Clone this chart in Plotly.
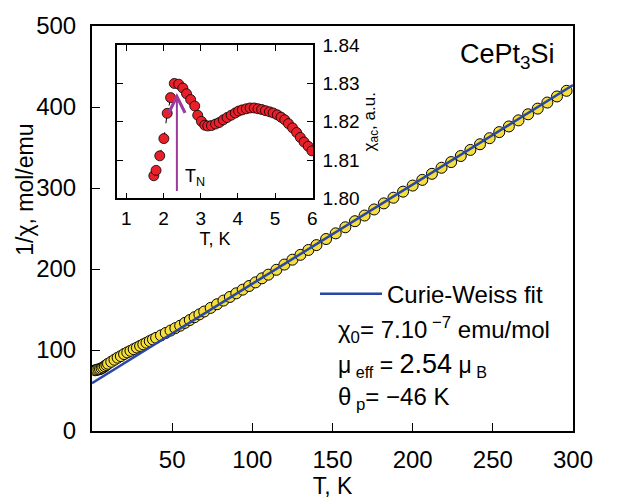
import plotly.graph_objects as go

# ---------------- data ----------------
# main panel: inverse susceptibility
T_main = [2, 3, 4, 5, 6, 7, 8, 9, 10, 12, 14, 16, 18, 20, 22, 24, 26, 28, 30, 32,
          34, 36, 38, 40, 43, 46, 49, 52, 55, 58, 61, 64, 67, 70, 74, 78, 82, 86,
          90, 94, 98, 102, 106, 110, 115, 120, 125, 130, 135, 140, 146, 152, 158,
          164, 170, 176, 182, 188, 194, 200, 206, 212, 218, 224, 230, 236, 242,
          248, 254, 260, 266, 272, 278, 284, 290, 296]
inv_chi = [75, 75.5, 76, 76.5, 77.5, 78.5, 80, 81.5, 83, 85.5, 88, 90.5, 92.5, 95,
           97, 99, 101, 103, 105, 107, 109, 111, 113, 115, 118, 121, 124, 127, 130,
           133.5, 137, 140.5, 144, 147.5, 152, 156.5, 161, 165.5, 170, 174.5, 179,
           183.5, 188.5, 193, 199, 205.5, 211.5, 217.5, 223.5, 229.5, 237, 244,
           251.5, 259, 266, 273.5, 281, 288, 295.5, 303, 310, 317.5, 325, 332,
           339.5, 347, 354, 361.5, 369, 376, 383.5, 391, 398, 405.5, 413, 420]

# Curie-Weiss fit line
T_fit = [0, 300]
inv_chi_fit = [59, 427]

# inset: ac susceptibility
T_ac = [1.74, 1.80, 1.90, 2.01, 2.10, 2.19, 2.29, 2.41, 2.52, 2.62, 2.73, 2.84,
        2.92, 3.02, 3.11, 3.19, 3.29, 3.40, 3.50, 3.61, 3.71, 3.82, 3.93, 4.02,
        4.12, 4.23, 4.33, 4.44, 4.54, 4.64, 4.74, 4.85, 4.95, 5.06, 5.16, 5.26,
        5.36, 5.47, 5.58, 5.68, 5.78, 5.89, 5.99]
chi_ac = [1.8059, 1.8073, 1.8111, 1.8156, 1.8222, 1.8263, 1.8300, 1.8298, 1.8288,
          1.8273, 1.8258, 1.8241, 1.8217, 1.8201, 1.8191, 1.8189, 1.8190, 1.8194,
          1.8198, 1.8205, 1.8211, 1.8217, 1.8223, 1.8228, 1.8231, 1.8234, 1.8236,
          1.8236, 1.8234, 1.8232, 1.8229, 1.8226, 1.8223, 1.8218, 1.8212, 1.8205,
          1.8195, 1.8184, 1.8172, 1.8159, 1.8147, 1.8136, 1.8124]

T_N = 2.36
arrow_from = 1.8015
arrow_to = 1.8275

main_xticks = [50, 100, 150, 200, 250, 300]
main_yticks = [0, 100, 200, 300, 400, 500]
inset_xticks = [1, 2, 3, 4, 5, 6]
inset_yticks = [1.80, 1.81, 1.82, 1.83, 1.84]

FONT = "Liberation Sans, Arial, Helvetica, sans-serif"

fig = go.Figure()

fig.add_trace(go.Scatter(
    x=T_main, y=inv_chi, mode="markers", showlegend=False,
    marker=dict(size=11, color="#f6df3a", line=dict(color="black", width=1)),
    xaxis="x", yaxis="y"))

fig.add_trace(go.Scatter(
    x=T_fit, y=inv_chi_fit, mode="lines", name="Curie-Weiss fit",
    line=dict(color="#2a47a6", width=2.5), xaxis="x", yaxis="y"))

fig.add_trace(go.Scatter(
    x=T_ac, y=chi_ac, mode="lines+markers", showlegend=False,
    line=dict(color="black", width=1, dash="dash"),
    marker=dict(size=10, color="#e8202a", line=dict(color="black", width=0.8)),
    xaxis="x2", yaxis="y2"))

x0, x1 = 92, 573
y0, y1 = 17, 440
W, H = 618, 501
pw, ph = x1 - x0, y1 - y0


def px(x):
    return (x - x0) / pw


def py(y):
    return (y1 - y) / ph


axis_common = dict(showgrid=False, zeroline=False, linecolor="black",
                   ticks="inside", tickcolor="black")

fig.update_layout(
    width=W, height=H,
    margin=dict(l=x0, r=W - x1, t=y0, b=H - y1),
    paper_bgcolor="white", plot_bgcolor="white",
    font=dict(family=FONT, size=24, color="black"),
    xaxis=dict(range=[0, 300], tickvals=main_xticks, linewidth=2, ticklen=8,
               tickwidth=1, mirror=True, ticklabelstandoff=6,
               tickfont=dict(size=24),
               title=dict(text="T, K", font=dict(size=23), standoff=0),
               **axis_common),
    yaxis=dict(range=[0, 500], tickvals=main_yticks, linewidth=2, ticklen=8,
               tickwidth=1, mirror=True, ticklabelstandoff=9,
               tickfont=dict(size=24), **axis_common),
    xaxis2=dict(domain=[px(117), px(313)], anchor="y2", range=[0.75, 6.02],
                tickvals=inset_xticks, linewidth=1.5, ticklen=6, mirror="ticks",
                tickfont=dict(size=19), ticklabelstandoff=2,
                title=dict(text="T, K", font=dict(size=18), standoff=0),
                **axis_common),
    yaxis2=dict(domain=[py(197), py(37)], anchor="x2", side="right",
                range=[1.80, 1.84], tickvals=inset_yticks, tickformat=".2f",
                linewidth=1.5, ticklen=6, mirror="ticks",
                tickfont=dict(size=19), ticklabelstandoff=4,
                title=dict(text="χ<sub>ac</sub>, a.u.", font=dict(size=17), standoff=4),
                **axis_common),
    legend=dict(x=px(315), y=py(297), xanchor="left", yanchor="middle",
                bgcolor="rgba(0,0,0,0)", borderwidth=0,
                font=dict(size=24), itemwidth=62),
)

ann = []
ann.append(dict(xref="paper", yref="paper", x=px(25), y=py(188),
                xanchor="center", yanchor="middle",
                text="1/χ, mol/emu", textangle=-90, showarrow=False,
                font=dict(size=23)))
ann.append(dict(xref="paper", yref="paper", x=px(557), y=py(48),
                xanchor="right", yanchor="middle",
                text="CePt<sub>3</sub>Si", showarrow=False, font=dict(size=27)))
ann.append(dict(xref="paper", yref="paper", x=px(336), y=py(334),
                xanchor="left", yanchor="middle",
                text="χ<sub>0</sub>= 7.10<sup> −7</sup> emu/mol", showarrow=False,
                font=dict(size=24)))
ann.append(dict(xref="paper", yref="paper", x=px(336), y=py(371),
                xanchor="left", yanchor="middle",
                text="μ<sub> eff</sub> = <span style='font-size:27px'>2.54</span> μ<sub> B</sub>",
                showarrow=False, font=dict(size=23)))
ann.append(dict(xref="paper", yref="paper", x=px(336), y=py(406),
                xanchor="left", yanchor="middle",
                text="θ<sub> p</sub>= −46 K", showarrow=False, font=dict(size=24)))
ann.append(dict(xref="x2", yref="y2", x=T_N, y=arrow_to,
                ax=T_N, ay=arrow_from, axref="x2", ayref="y2",
                text="", showarrow=True, arrowhead=5, arrowsize=1.6,
                arrowwidth=2, arrowcolor="#9a3a9a"))
ann.append(dict(xref="x2", yref="y2", x=2.52, y=1.8055, xanchor="left",
                yanchor="middle", text="T<sub>N</sub>", showarrow=False,
                font=dict(size=18)))
fig.update_layout(annotations=ann)

fig.write_html("out.html")
